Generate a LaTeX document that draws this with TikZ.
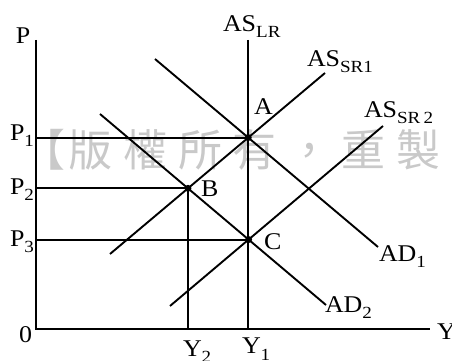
\documentclass[tikz,border=0pt]{standalone}
\usepackage{graphicx}
\usepackage{fontspec}
\setmainfont{Liberation Serif}
\newfontfamily\cjk{Noto Sans CJK TC}
\newcommand\lowsub[1]{\raisebox{-6pt}{\fontsize{17pt}{17pt}\selectfont\scalebox{1.12}[1]{#1}}}
\newcommand\hsc[1]{\scalebox{1.08}[1]{#1}}
\newcommand\wmch[1]{\makebox[54.6pt]{#1}}
\begin{document}
\begin{tikzpicture}[x=1pt,y=1pt,line width=2pt,
  lbl/.style={inner sep=0pt,anchor=base west,font=\fontsize{24pt}{24pt}\selectfont},
  dot/.style={circle,fill,inner sep=0pt,minimum size=7pt},
  curve/.style={line width=1.9pt}]
\useasboundingbox (0,0) rectangle (452,361);
\clip (0,0) rectangle (452,361);
% watermark
\node[anchor=west,inner sep=0pt,text=black!21,font=\cjk\fontsize{44pt}{44pt}\selectfont] (wm) at (8.1,211)
  {\makebox[54.6pt][l]{\hspace*{12pt}【}\wmch{版}\wmch{權}\wmch{所}\wmch{有}\wmch{，}\wmch{重}\wmch{製}\wmch{必}\wmch{究}\wmch{】}};
% coordinates
\coordinate (O) at (36,32);
\coordinate (Ptop) at (36,321);
\coordinate (Yend) at (430,32);
\coordinate (AD1a) at (155,302);
\coordinate (AD1b) at (378,114);
\coordinate (AD2a) at (100,247);
\coordinate (AD2b) at (326,56);
\coordinate (SR1a) at (110,107);
\coordinate (SR1b) at (325,288);
\coordinate (SR2a) at (170,55);
\coordinate (SR2b) at (383,235);
\coordinate (A) at (intersection of AD1a--AD1b and SR1a--SR1b);
\coordinate (B) at (intersection of AD2a--AD2b and SR1a--SR1b);
\coordinate (C) at (intersection of AD2a--AD2b and SR2a--SR2b);
% axes
\draw[line join=miter] (Ptop) -- (O) -- (Yend);
% curves
\draw[curve] (AD1a) -- (AD1b);
\draw[curve] (AD2a) -- (AD2b);
\draw[curve] (SR1a) -- (SR1b);
\draw[curve] (SR2a) -- (SR2b);
\draw[curve] (A |- Ptop) -- (A |- O);
% reference lines
\draw[curve] (O |- A) -- (A);
\draw[curve] (O |- B) -- (B);
\draw[curve] (B) -- (B |- O);
\draw[curve] (O |- C) -- (C);
% dots
\node[dot] (dA) at (A) {};
\node[dot] (dB) at (B) {};
\node[dot] (dC) at (C) {};
% labels
\node[lbl] (lP) at (15,317) {\hsc{P}};
\node[lbl] (l0) at (18,18) {\hsc{0}};
\node[lbl] (lY) at (436,21) {\hsc{Y}};
\node[lbl] (lP1) at (9,220) {\hsc{P}\lowsub{1}};
\node[lbl] (lP2) at (9,166) {\hsc{P}\lowsub{2}};
\node[lbl] (lP3) at (9,114) {\hsc{P}\lowsub{3}};
\node[lbl] (lY2) at (182,5) {\hsc{Y}\lowsub{2}};
\node[lbl] (lY1) at (241,7) {\hsc{Y}\lowsub{1}};
\node[lbl] (lA) at (253,246) {\hsc{A}};
\node[lbl] (lB) at (200,164) {\hsc{B}};
\node[lbl] (lC) at (263,111) {\hsc{C}};
\node[lbl] (lLR) at (222,329) {\hsc{AS}\lowsub{LR}};
\node[lbl] (lSR1) at (306,294) {\hsc{AS}\lowsub{SR1}};
\node[lbl] (lSR2) at (363,243) {\hsc{AS}\lowsub{SR\,2}};
\node[lbl] (lAD1) at (378,99) {\hsc{AD}\lowsub{1}};
\node[lbl] (lAD2) at (324,48) {\hsc{AD}\lowsub{2}};
\end{tikzpicture}
\end{document}
